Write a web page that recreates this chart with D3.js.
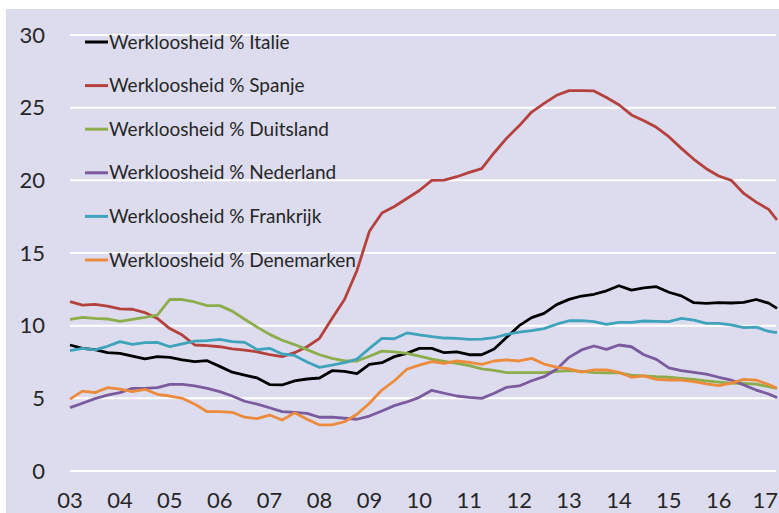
<!DOCTYPE html>
<html><head><meta charset="utf-8">
<script src="https://cdn.jsdelivr.net/npm/d3@7"></script>
<style>html,body{margin:0;padding:0;background:#fff;}svg{display:block;}</style>
</head><body><svg id="chart" width="779" height="513"></svg>
<script>
// month index (0 = Jan 2003), quarterly observations
const months = [0,3,6,9,12,15,18,21,24,27,30,33,36,39,42,45,48,51,54,57,60,63,66,69,72,75,78,81,84,87,90,93,96,99,102,105,108,111,114,117,120,123,126,129,132,135,138,141,144,147,150,153,156,159,162,165,168,170];
const yearLabels = ["03","04","05","06","07","08","09","10","11","12","13","14","15","16","17"];
const yTicks = [0,5,10,15,20,25,30];
const seriesNames = ["Werkloosheid % Italie","Werkloosheid % Spanje","Werkloosheid % Duitsland","Werkloosheid % Nederland","Werkloosheid % Frankrijk","Werkloosheid % Denemarken"];
const seriesColors = ["#000000","#b5413d","#8cad4b","#7a5b9d","#3fa3bb","#ec8b3b"];

const italie = [8.67,8.44,8.35,8.15,8.1,7.91,7.71,7.87,7.82,7.64,7.52,7.59,7.2,6.8,6.6,6.4,5.95,5.92,6.2,6.33,6.4,6.9,6.85,6.7,7.34,7.45,7.87,8.1,8.44,8.44,8.14,8.2,8.0,8.0,8.4,9.2,10.0,10.55,10.85,11.45,11.81,12.04,12.16,12.4,12.75,12.45,12.6,12.68,12.3,12.05,11.58,11.54,11.58,11.56,11.6,11.8,11.55,11.19];
const spanje = [11.65,11.42,11.47,11.35,11.15,11.13,10.9,10.5,9.8,9.35,8.67,8.62,8.55,8.4,8.32,8.2,8.0,7.87,8.14,8.55,9.13,10.5,11.8,13.8,16.5,17.75,18.2,18.75,19.3,20.0,20.02,20.25,20.55,20.8,21.9,22.9,23.75,24.7,25.3,25.85,26.17,26.17,26.15,25.7,25.2,24.5,24.1,23.65,23.0,22.2,21.45,20.8,20.3,20.0,19.1,18.5,18.0,17.27];
const duitsland = [10.44,10.57,10.5,10.46,10.3,10.44,10.57,10.73,11.81,11.8,11.63,11.38,11.38,11.0,10.44,9.9,9.4,9.0,8.7,8.35,8.0,7.75,7.57,7.57,7.9,8.25,8.2,8.1,7.9,7.7,7.55,7.4,7.25,7.02,6.93,6.77,6.77,6.77,6.77,6.85,6.9,6.85,6.77,6.75,6.75,6.6,6.55,6.49,6.45,6.38,6.3,6.2,6.12,6.05,6.02,5.98,5.8,5.69];
const nederland = [4.36,4.66,4.98,5.22,5.39,5.69,5.69,5.73,5.96,5.96,5.85,5.69,5.46,5.16,4.8,4.6,4.35,4.08,4.04,3.97,3.7,3.7,3.63,3.56,3.78,4.13,4.5,4.75,5.07,5.55,5.35,5.16,5.07,5.0,5.35,5.76,5.85,6.21,6.49,7.0,7.82,8.33,8.6,8.37,8.67,8.55,8.0,7.68,7.1,6.9,6.79,6.67,6.45,6.26,5.92,5.57,5.3,5.05];
const frankrijk = [8.28,8.44,8.33,8.58,8.9,8.72,8.83,8.85,8.55,8.74,8.94,8.97,9.06,8.9,8.85,8.35,8.44,8.05,7.95,7.5,7.13,7.29,7.45,7.7,8.44,9.13,9.1,9.5,9.36,9.24,9.15,9.13,9.06,9.08,9.17,9.4,9.55,9.66,9.8,10.1,10.34,10.34,10.28,10.09,10.23,10.23,10.32,10.3,10.28,10.5,10.38,10.16,10.16,10.05,9.86,9.9,9.6,9.52];
const denemarken = [4.95,5.5,5.39,5.73,5.64,5.46,5.62,5.28,5.16,5.0,4.6,4.08,4.08,4.04,3.7,3.6,3.85,3.51,4.0,3.56,3.17,3.17,3.39,3.9,4.66,5.57,6.21,7.0,7.29,7.52,7.41,7.57,7.48,7.34,7.57,7.64,7.57,7.75,7.36,7.15,7.02,6.8,6.95,6.95,6.79,6.45,6.54,6.31,6.26,6.26,6.15,6.0,5.87,6.05,6.31,6.25,5.95,5.69];
const seriesValues = [italie, spanje, duitsland, nederland, frankrijk, denemarken];

const svg = d3.select("#chart");
const font = "Lato, 'Open Sans', sans-serif";
const W = 779;

svg.append("rect").attr("x",6).attr("y",9).attr("width",773).attr("height",504).attr("fill","#dddcee");

const x = d3.scaleLinear().domain([0,170]).range([70,777]);
const y = d3.scaleLinear().domain([0,30]).range([471,35]);

// gridlines
svg.append("g").selectAll("line").data(yTicks).join("line")
  .attr("x1",70).attr("x2",776)
  .attr("y1",d=>y(d)).attr("y2",d=>y(d))
  .attr("stroke","#ffffff").attr("stroke-width",2);

// y labels
svg.append("g").selectAll("text").data(yTicks).join("text")
  .attr("x",45).attr("y",d=>y(d)).attr("dy","0.35em")
  .attr("text-anchor","end").attr("font-family",font).attr("font-size",22)
  .attr("fill","#262626").text(d=>d);

// x labels (kept inside the picture's right edge)
svg.append("g").selectAll("text").data(yearLabels).join("text")
  .attr("y",508)
  .attr("text-anchor","middle").attr("font-family",font).attr("font-size",22)
  .attr("fill","#262626").text(d=>d)
  .attr("x",function(d,i){
    const w = this.getComputedTextLength();
    return Math.min(x(i*12), W - 1 - w/2);
  });

// legend
const lg = svg.append("g").selectAll("g").data(seriesNames).join("g")
  .attr("transform",(d,i)=>`translate(85,${42 + i*43.6})`);
lg.append("line").attr("x1",0).attr("x2",23).attr("y1",0).attr("y2",0)
  .attr("stroke",(d,i)=>seriesColors[i]).attr("stroke-width",3);
lg.append("text").attr("x",24).attr("y",0).attr("dy","0.35em")
  .attr("font-family",font).attr("font-size",19).attr("fill","#262626").text(d=>d);

// lines
const line = d3.line().x((d,i)=>x(months[i])).y(d=>y(d));
svg.append("g").selectAll("path").data(seriesValues).join("path")
  .attr("d",line).attr("fill","none")
  .attr("stroke",(d,i)=>seriesColors[i]).attr("stroke-width",2.8)
  .attr("stroke-linejoin","round");
</script>
</body></html>
